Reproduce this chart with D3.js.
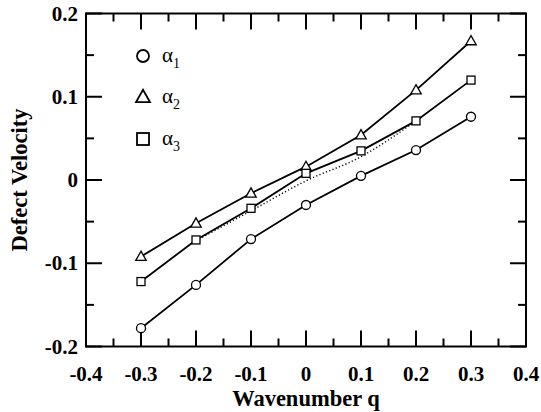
<!DOCTYPE html>
<html><head><meta charset="utf-8">
<script src="https://cdn.jsdelivr.net/npm/d3@7"></script>
<style>body{margin:0;background:#fff}svg{display:block}text{font-family:"Liberation Serif","DejaVu Serif",serif;fill:#000}</style>
</head><body>
<svg id="c" width="541" height="412"></svg>
<script>
const qValues = [-0.3, -0.2, -0.1, 0, 0.1, 0.2, 0.3];
const alpha1 = [-0.178, -0.126, -0.071, -0.030, 0.005, 0.036, 0.076];
const alpha2 = [-0.092, -0.052, -0.016, 0.016, 0.054, 0.108, 0.167];
const alpha3 = [-0.122, -0.072, -0.034, 0.008, 0.035, 0.071, 0.120];
const dottedQ = [-0.2, -0.1, 0, 0.1, 0.2];
const dottedV = [-0.073, -0.037, -0.001, 0.028, 0.071];
const xTicks = [-0.4, -0.3, -0.2, -0.1, 0, 0.1, 0.2, 0.3, 0.4];
const yTicks = [-0.2, -0.1, 0, 0.1, 0.2];
const xTickLabels = ["-0.4", "-0.3", "-0.2", "-0.1", "0", "0.1", "0.2", "0.3", "0.4"];
const yTickLabels = ["-0.2", "-0.1", "0", "0.1", "0.2"];
const seriesNames = ["α1", "α2", "α3"];

const svg = d3.select("#c");
const L = 86, R = 526, T = 13.5, B = 346.5;
const x = d3.scaleLinear().domain([-0.4, 0.4]).range([L, R]);
const y = d3.scaleLinear().domain([-0.2, 0.2]).range([B, T]);

svg.append("rect").attr("x", L).attr("y", T).attr("width", R - L).attr("height", B - T)
  .attr("fill", "none").attr("stroke", "#000").attr("stroke-width", 2);

const g = svg.append("g").attr("stroke", "#000").attr("stroke-width", 2);
const xMinor = d3.range(-0.35, 0.4, 0.1);
const yMinor = d3.range(-0.15, 0.2, 0.1);
function tick(x1, y1, x2, y2) { g.append("line").attr("x1", x1).attr("y1", y1).attr("x2", x2).attr("y2", y2); }
xTicks.forEach(v => { tick(x(v), B, x(v), B - 16); tick(x(v), T, x(v), T + 16); });
xMinor.forEach(v => { tick(x(v), B, x(v), B - 8); tick(x(v), T, x(v), T + 8); });
yTicks.forEach(v => { tick(L, y(v), L + 16, y(v)); tick(R, y(v), R - 16, y(v)); });
yMinor.forEach(v => { tick(L, y(v), L + 8, y(v)); tick(R, y(v), R - 8, y(v)); });

xTicks.forEach((v, i) => {
  svg.append("text").attr("x", x(v)).attr("y", 381).attr("text-anchor", "middle")
    .attr("font-weight", "bold").attr("font-size", 21).text(xTickLabels[i]);
});
yTicks.forEach((v, i) => {
  svg.append("text").attr("x", 78).attr("y", y(v) + 7).attr("text-anchor", "end")
    .attr("font-weight", "bold").attr("font-size", 21).text(yTickLabels[i]);
});

svg.append("text").attr("x", 306).attr("y", 406).attr("text-anchor", "middle")
  .attr("font-weight", "bold").attr("font-size", 22.5).text("Wavenumber q");
svg.append("text").attr("transform", "translate(27,180) rotate(-90)").attr("text-anchor", "middle")
  .attr("font-weight", "bold").attr("font-size", 22.5).text("Defect Velocity");

const line = d3.line().x(d => x(d[0])).y(d => y(d[1]));
const allSeries = [alpha1, alpha2, alpha3];
allSeries.forEach(s => {
  svg.append("path").datum(qValues.map((q, i) => [q, s[i]])).attr("d", line)
    .attr("fill", "none").attr("stroke", "#000").attr("stroke-width", 1.8);
});
const dline = d3.line().x(d => x(d[0])).y(d => y(d[1])).curve(d3.curveMonotoneX);
svg.append("path").datum(dottedQ.map((q, i) => [q, dottedV[i]])).attr("d", dline)
  .attr("fill", "none").attr("stroke", "#000").attr("stroke-width", 1.4).attr("stroke-dasharray", "1.2,2.3");

function marker(sel, type, cx, cy, s) {
  if (type === 0) sel.append("circle").attr("cx", cx).attr("cy", cy).attr("r", s / 2);
  else if (type === 1) sel.append("path").attr("d", `M${cx},${cy - s * 0.6}L${cx + s * 0.58},${cy + s * 0.42}L${cx - s * 0.58},${cy + s * 0.42}Z`);
  else sel.append("rect").attr("x", cx - s / 2).attr("y", cy - s / 2).attr("width", s).attr("height", s);
}
const mk = svg.append("g").attr("fill", "#fff").attr("stroke", "#000").attr("stroke-width", 1.3);
allSeries.forEach((s, k) => {
  qValues.forEach((q, i) => marker(mk, k, x(q), y(s[i]), k === 2 ? 8 : 9));
});

const lg = svg.append("g").attr("fill", "none").attr("stroke", "#000").attr("stroke-width", 1.8);
const legY = [56, 97, 139];
seriesNames.forEach((n, k) => {
  marker(lg, k, 143, legY[k], 12);
  const t = svg.append("text").attr("x", 162).attr("y", legY[k] + 6).attr("font-size", 21);
  t.append("tspan").text(n[0]);
  t.append("tspan").attr("dy", 6).attr("font-size", 14).text(n.slice(1));
});
</script>
</body></html>
